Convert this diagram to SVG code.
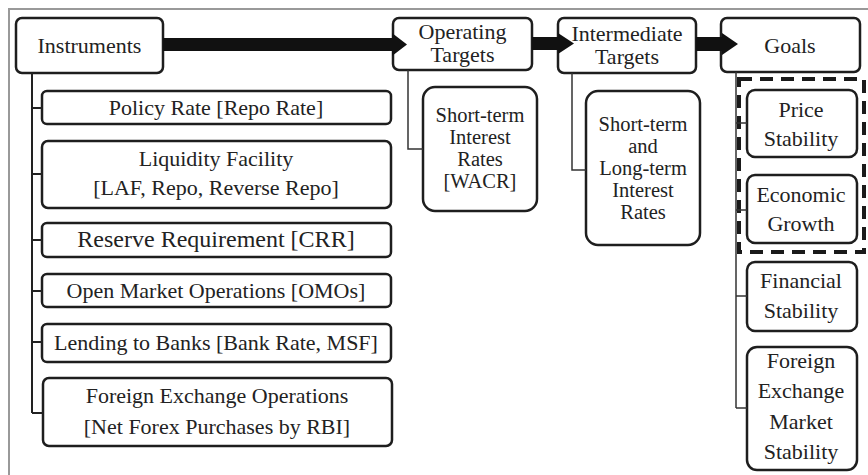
<svg xmlns="http://www.w3.org/2000/svg" width="868" height="475" viewBox="0 0 868 475">
<style>
.box{fill:#fff;stroke:#1e1e1e;stroke-width:2.5}
.t{font-family:"Liberation Serif","Times New Roman",serif;font-size:22px;fill:#222;text-anchor:middle}
.big{font-size:24px}
.sm{font-size:20.5px}
.ln{fill:none;stroke:#333;stroke-width:1.5}
.ln2{fill:none;stroke:#222;stroke-width:2}
.arr{fill:#111}
.dash{fill:none;stroke:#1a1a1a;stroke-width:4;stroke-dasharray:13 8}
.frame{fill:none;stroke:#999;stroke-width:2}
</style>
<rect width="868" height="475" fill="#fff"/>
<path class="frame" d="M9,475 V9 H868"/>

<g id="instruments"><rect class="box" x="16" y="18" width="147" height="55" rx="6"/><text class="t" x="89.5" y="53">Instruments</text></g>
<g id="policy-rate"><rect class="box" x="42" y="91" width="349" height="33" rx="5"/><text class="t" x="216" y="115">Policy Rate [Repo Rate]</text></g>
<g id="liquidity"><rect class="box" x="42" y="141" width="349" height="67" rx="6"/><text class="t" x="216" y="166">Liquidity Facility</text><text class="t" x="216" y="195">[LAF, Repo, Reverse Repo]</text></g>
<g id="reserve"><rect class="box" x="42" y="223" width="349" height="34" rx="5"/><text class="t big" x="216" y="247">Reserve Requirement [CRR]</text></g>
<g id="omo"><rect class="box" x="42" y="274" width="349" height="33" rx="5"/><text class="t" x="216" y="298">Open Market Operations [OMOs]</text></g>
<g id="lending"><rect class="box" x="42" y="324" width="349" height="38" rx="5"/><text class="t" x="216" y="350">Lending to Banks [Bank Rate, MSF]</text></g>
<g id="forex-ops"><rect class="box" x="43" y="378" width="349" height="68" rx="6"/><text class="t" x="217" y="403">Foreign Exchange Operations</text><text class="t" x="217" y="434">[Net Forex Purchases by RBI]</text></g>

<g id="operating"><rect class="box" x="393" y="18" width="139" height="52" rx="6"/><text class="t" x="462.5" y="39">Operating</text><text class="t" x="462.5" y="62">Targets</text></g>
<g id="wacr"><rect class="box" x="423" y="87" width="114" height="124" rx="12"/><text class="t sm" x="480" y="122">Short-term</text><text class="t sm" x="480" y="144">Interest</text><text class="t sm" x="480" y="166">Rates</text><text class="t sm" x="480" y="188">[WACR]</text></g>

<g id="intermediate"><rect class="box" x="558" y="18" width="138" height="55" rx="6"/><text class="t" x="627" y="41">Intermediate</text><text class="t" x="627" y="64">Targets</text></g>
<g id="rates"><rect class="box" x="586" y="91" width="114" height="154" rx="12"/><text class="t sm" x="643" y="131">Short-term</text><text class="t sm" x="643" y="153">and</text><text class="t sm" x="643" y="175">Long-term</text><text class="t sm" x="643" y="197">Interest</text><text class="t sm" x="643" y="219">Rates</text></g>

<g id="goals"><rect class="box" x="721" y="18" width="139" height="54" rx="6"/><text class="t" x="790" y="53">Goals</text></g>
<g id="price"><rect class="box" x="747" y="90" width="110" height="67" rx="8"/><text class="t" x="801" y="117">Price</text><text class="t" x="801" y="146">Stability</text></g>
<g id="growth"><rect class="box" x="747" y="175" width="110" height="68" rx="8"/><text class="t" x="801" y="202">Economic</text><text class="t" x="801" y="231">Growth</text></g>
<g id="financial"><rect class="box" x="747" y="262" width="110" height="69" rx="8"/><text class="t" x="801" y="288">Financial</text><text class="t" x="801" y="318">Stability</text></g>
<g id="fx-market"><rect class="box" x="747" y="347" width="110" height="123" rx="10"/><text class="t" x="801" y="368">Foreign</text><text class="t" x="801" y="398">Exchange</text><text class="t" x="801" y="429">Market</text><text class="t" x="801" y="459">Stability</text></g>
<g id="core-goals"><rect class="dash" x="739" y="79" width="125" height="173"/></g>

<g id="connectors">
<path class="ln2" d="M32,73 V413 M32,108 H42 M32,174 H42 M32,240 H42 M32,291 H42 M32,342 H42 M32,413 H43"/>
<path class="ln" d="M408,70 V149 H423"/>
<path class="ln" d="M572,73 V170 H586"/>
<path class="ln" d="M736,72 V408 M736,123 H747 M736,210 H747 M736,296 H747 M736,408 H747"/>
<path class="arr" d="M163,38 H392 V33 L407,44.5 L392,56 V51 H163 Z"/>
<path class="arr" d="M532,37 H558 V33 L574,43.5 L558,54 V50 H532 Z"/>
<path class="arr" d="M696,37 H722 V33 L738,44 L722,55 V51 H696 Z"/>
</g>
</svg>
